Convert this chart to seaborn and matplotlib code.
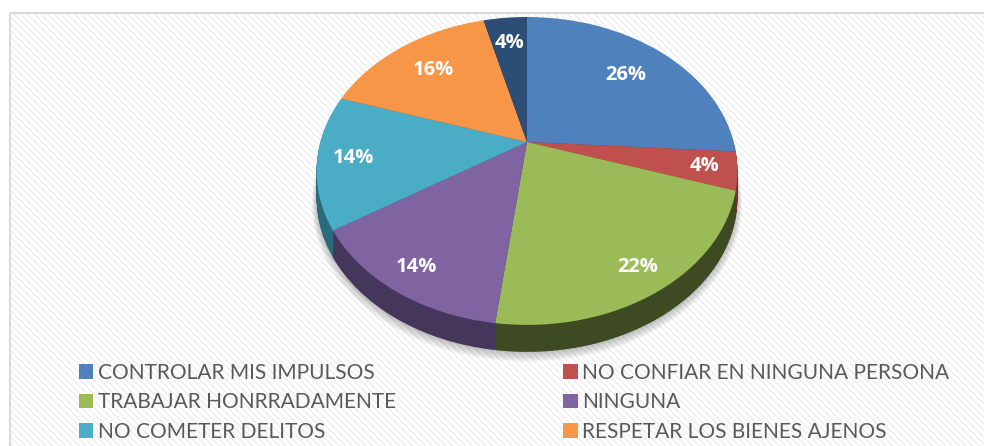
import numpy as np
import matplotlib
matplotlib.use("Agg")
import matplotlib.pyplot as plt
import matplotlib.transforms as mtransforms
from matplotlib.patches import Rectangle, Patch, Circle
import seaborn as sns

# datos del grafico
categorias = ["CONTROLAR MIS IMPULSOS", "NO CONFIAR EN NINGUNA PERSONA",
              "TRABAJAR HONRRADAMENTE", "NINGUNA",
              "NO COMETER DELITOS", "RESPETAR LOS BIENES AJENOS"]
valores = [26, 4, 22, 14, 14, 16, 4]
etiquetas = ["26%", "4%", "22%", "14%", "14%", "16%", "4%"]

colores = ["#4F81BD", "#C0504D", "#9BBB59", "#8064A2", "#4BACC6", "#F79646", "#2C4D75"]
lados = ["#2F4B70", "#7A302E", "#3D4A22", "#45375C", "#2B6A7C", "#9A5A25", "#1A2E46"]
radio_etq = [0.72, 0.85, 0.86, 0.86, 0.83, 0.73, 0.77]


class Perspectiva(mtransforms.Transform):
    # disco unitario -> elipse con perspectiva (en pixeles)
    input_dims = 2
    output_dims = 2

    def __init__(self, cx, cy, rx, ry, k, dy=0.0):
        super().__init__()
        self.cx, self.cy, self.rx, self.ry, self.k, self.dy = cx, cy, rx, ry, k, dy

    def transform_non_affine(self, pts):
        pts = np.asarray(pts, dtype=float)
        u, v = pts[:, 0], pts[:, 1]
        w = 1 + self.k * v
        return np.column_stack([self.cx + self.rx * u / w,
                                self.cy + self.dy - self.ry * v / w])


sns.set_theme(style="white")
plt.rcParams["font.family"] = ["Lato", "DejaVu Sans"]
plt.rcParams["hatch.linewidth"] = 1.0

W, H = 984, 446
fig = plt.figure(figsize=(W / 100, H / 100), dpi=100)
ax = fig.add_axes([0, 0, 1, 1])

# fondo rayado
ax.add_patch(Rectangle((10, 13), 1200, 600, facecolor="white", edgecolor="#EDEDED",
                       hatch="\\" * 5, lw=0, zorder=0))
ax.add_patch(Rectangle((10, 13), 1200, 600, facecolor="none", edgecolor="#D9D9D9",
                       lw=1.5, zorder=0.5))

cx, cy, rx, ry, k = 527, 142, 206.7, 148.5, 0.188
profundidad = 27

# sombra suave
for i in range(8):
    ax.add_patch(Circle((0, 0), 1.0 + 0.003 * i, facecolor="black", alpha=0.03, lw=0,
                        transform=Perspectiva(cx, cy, rx, ry, k, dy=profundidad + 1 + i * 0.6)
                        + ax.transData, zorder=0.8))

# costado 3D: capas apiladas
for d in range(profundidad, 0, -1):
    cuñas, _ = ax.pie(valores, colors=lados, startangle=90, counterclock=False,
                      wedgeprops=dict(linewidth=0))
    tr = Perspectiva(cx, cy, rx, ry, k, dy=d) + ax.transData
    for c in cuñas:
        c.set_transform(tr)
        c.set_zorder(1)

# cara superior
cuñas, _ = ax.pie(valores, colors=colores, startangle=90, counterclock=False,
                  wedgeprops=dict(linewidth=0))
tr_sup = Perspectiva(cx, cy, rx, ry, k) + ax.transData
for c in cuñas:
    c.set_transform(tr_sup)
    c.set_zorder(2)

# etiquetas de porcentaje
ang = 90 - (np.cumsum(valores) - np.array(valores) / 2) / sum(valores) * 360
for a, r, txt in zip(np.deg2rad(ang), radio_etq, etiquetas):
    ax.text(r * np.cos(a), r * np.sin(a), txt, transform=tr_sup, color="white",
            fontsize=14.5, fontweight="bold", family=["Open Sans", "DejaVu Sans"],
            ha="center", va="center", zorder=3)

ax.set_aspect("auto")
ax.set_xlim(0, W)
ax.set_ylim(H, 0)
ax.axis("off")

# leyenda ordenada por filas
orden = [0, 2, 4, 1, 3, 5]
manijas = [Patch(facecolor=colores[i], edgecolor="none") for i in orden]
fig.legend(manijas, [categorias[i] for i in orden], loc="upper left",
           bbox_to_anchor=(60 / W, 1 - 344 / H),
           ncol=2, frameon=False, fontsize=15, labelcolor="#595959",
           handlelength=0.7, handleheight=0.7, handletextpad=0.2,
           columnspacing=8.05, labelspacing=0.45)

fig.savefig("out.png", dpi=100)
